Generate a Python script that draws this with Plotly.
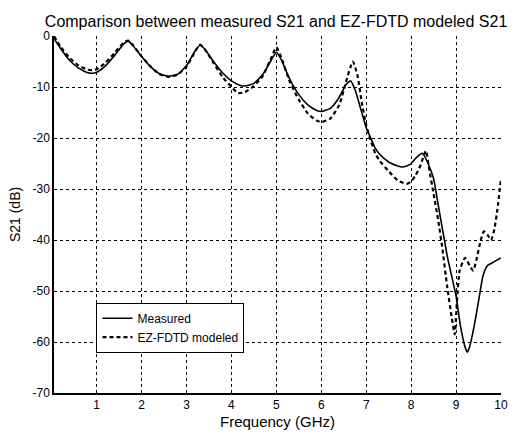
import plotly.graph_objects as go

# ---- data ----
meas_f = [0.05, 0.2, 0.4, 0.6, 0.8, 0.9, 1.0, 1.2, 1.4, 1.6, 1.7, 1.8, 2.0, 2.2, 2.4, 2.6, 2.8, 3.0,
          3.2, 3.3, 3.4, 3.6, 3.8, 4.0, 4.2, 4.3, 4.5, 4.7, 4.9, 5.0, 5.1, 5.3, 5.5, 5.7, 5.9, 6.0,
          6.2, 6.4, 6.55, 6.65, 6.75, 6.9, 7.0, 7.1, 7.2, 7.3, 7.5, 7.7, 7.8, 7.9, 8.0, 8.1, 8.2,
          8.25, 8.3, 8.4, 8.5, 8.6, 8.7, 8.8, 8.9, 9.0, 9.1, 9.2, 9.25, 9.3, 9.4, 9.5, 9.6, 9.7,
          9.8, 9.9, 10.0]
meas_db = [-0.5, -2.5, -4.8, -6.3, -7.2, -7.3, -7.1, -5.8, -3.8, -1.6, -1.0, -1.8, -4.0, -6.0, -7.4,
           -7.9, -7.5, -5.8, -2.8, -1.8, -2.5, -5.0, -7.2, -8.8, -9.7, -9.8, -9.3, -7.5, -4.5, -3.2,
           -4.5, -8.5, -11.5, -13.5, -14.6, -14.8, -14.2, -12.0, -9.5, -8.8, -10.5, -15.0, -18.0,
           -20.0, -22.0, -23.2, -24.7, -25.5, -25.7, -25.5, -25.0, -24.0, -23.2, -23.0, -23.6,
           -25.5, -28.0, -33.0, -38.0, -43.0, -47.0, -51.0, -57.0, -61.0, -62.0, -61.0, -57.0,
           -52.0, -47.0, -45.0, -44.5, -44.0, -43.5]

model_f = [0.05, 0.2, 0.4, 0.6, 0.8, 0.9, 1.0, 1.2, 1.4, 1.6, 1.7, 1.8, 2.0, 2.2, 2.4, 2.6, 2.8, 3.0,
           3.2, 3.3, 3.4, 3.6, 3.8, 4.0, 4.15, 4.3, 4.5, 4.7, 4.9, 5.0, 5.1, 5.3, 5.5, 5.7, 5.9, 6.0,
           6.2, 6.4, 6.55, 6.7, 6.8, 6.9, 7.0, 7.1, 7.2, 7.3, 7.5, 7.7, 7.9, 8.0, 8.1, 8.2, 8.33,
           8.4, 8.5, 8.6, 8.7, 8.8, 8.9, 8.97, 9.02, 9.08, 9.2, 9.3, 9.38, 9.45, 9.55, 9.62, 9.7,
           9.78, 9.85, 9.92, 10.0]
model_db = [0.0, -2.2, -4.3, -5.8, -6.6, -6.7, -6.5, -5.2, -3.3, -1.3, -0.9, -1.7, -4.0, -6.0, -7.5,
            -8.0, -7.6, -6.0, -2.9, -1.7, -2.5, -5.3, -8.0, -10.0, -11.2, -11.0, -9.8, -7.8, -4.0,
            -2.2, -4.0, -9.0, -12.5, -15.2, -16.6, -16.9, -16.2, -13.5, -9.0, -5.0, -7.5, -13.0,
            -17.5, -20.5, -23.0, -24.5, -26.5, -28.3, -29.0, -28.5, -27.3, -25.5, -22.5, -26.0,
            -31.0, -36.0, -42.0, -49.0, -55.0, -58.5, -52.0, -46.0, -43.5, -45.0, -46.0, -44.0,
            -40.0, -38.3, -39.0, -40.0, -38.0, -34.0, -28.0]

x_ticks = [1, 2, 3, 4, 5, 6, 7, 8, 9, 10]
x_ticktext = ["1", "2", "3", "4", "5", "6", "7", "8", "9", "10"]
y_ticks = [0, -10, -20, -30, -40, -50, -60, -70]
y_ticktext = ["0", "-10", "-20", "-30", "-40", "-50", "-60", "-70"]
x_range = [0.05, 10]
y_range = [-70, 0]

title_text = "Comparison between measured S21 and EZ-FDTD modeled S21"
x_title = "Frequency (GHz)"
y_title = "S21 (dB)"
series_names = ["Measured", "EZ-FDTD modeled"]

FONT = "Liberation Sans, Arial, sans-serif"

fig = go.Figure()
fig.add_trace(go.Scatter(x=meas_f, y=meas_db, mode="lines", name=series_names[0],
                         line=dict(color="black", width=1.6, dash="solid", shape="spline", smoothing=0.5)))
fig.add_trace(go.Scatter(x=model_f, y=model_db, mode="lines", name=series_names[1],
                         line=dict(color="black", width=2.2, dash="4px,3px", shape="spline", smoothing=0.5)))

fig.update_layout(
    width=516, height=436,
    margin=dict(l=54, r=8, t=36, b=42),
    paper_bgcolor="white", plot_bgcolor="white",
    font=dict(family=FONT, color="black", size=12),
    title=dict(text=title_text, x=0.535, xanchor="center", y=1 - 21 / 436, yanchor="middle",
               yref="container", font=dict(size=16, family=FONT, color="black")),
    showlegend=True,
    legend=dict(x=0.095, y=0.253, xanchor="left", yanchor="top",
                bgcolor="white", bordercolor="black", borderwidth=1,
                font=dict(size=12, family=FONT, color="black"),
                tracegroupgap=0, itemwidth=30),
)

axis_common = dict(showgrid=True, gridcolor="black", gridwidth=1.3, griddash="dot",
                   showline=True, linecolor="black", linewidth=1.5,
                   zeroline=False, tickfont=dict(size=12, color="black"))

fig.update_xaxes(range=x_range, tickvals=x_ticks, ticktext=x_ticktext,
                 title=dict(text=x_title, font=dict(size=15, color="black", family=FONT), standoff=5),
                 **axis_common)
fig.update_yaxes(range=y_range, tickvals=y_ticks, ticktext=y_ticktext,
                 title=dict(text=y_title, font=dict(size=14, color="black", family=FONT), standoff=9),
                 **axis_common)

fig.write_html("out.html")
